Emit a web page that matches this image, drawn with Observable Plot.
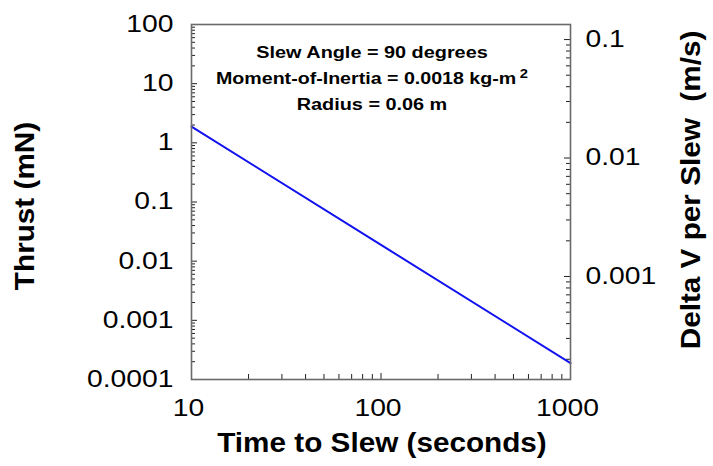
<!DOCTYPE html>
<html><head><meta charset="utf-8">
<script src="https://cdn.jsdelivr.net/npm/d3@7"></script>
<script src="https://cdn.jsdelivr.net/npm/@observablehq/plot@0.6"></script>
<style>
body{margin:0;background:#fff;}
#chart svg{font-family:"Liberation Sans",Arial,Helvetica,sans-serif;}
</style></head><body><div id="chart"></div>
<script>
// ---- data ----
const slewTime = [10, 100, 1000];              // seconds
const thrust = [1.885, 0.01885, 0.0001885];     // mN
const xTickLabels = [10, 100, 1000];
const yTickLabels = [0.0001, 0.001, 0.01, 0.1, 1, 10, 100];
const yDomain = [0.0001, 100];
const dvDomain = [0.000135, 0.134];             // right axis (m/s)
const dvTickLabels = [0.001, 0.01, 0.1];
const notes = ["Slew Angle = 90 degrees", "Moment-of-Inertia = 0.0018 kg-m", "Radius = 0.06 m"];
const noteSup = "2";
const xTitle = "Time to Slew (seconds)";
const yTitle = "Thrust (mN)";
const y2Title = "Delta V per Slew \u00a0(m/s)";

// ---- derived ----
const data = slewTime.map((t, i) => ({t, thrust: thrust[i]}));
const L = Math.log10;
const dvToY = v => 10 ** (L(yDomain[0]) + (L(v) - L(dvDomain[0])) / (L(dvDomain[1]) - L(dvDomain[0])) * (L(yDomain[1]) - L(yDomain[0])));
function minorTicks(lo, hi) {
  const out = [];
  for (let e = Math.floor(L(lo)); e <= Math.ceil(L(hi)); e++)
    for (let k = 2; k <= 9; k++) { const v = +(k * 10 ** e).toPrecision(3); if (v > lo && v < hi) out.push(v); }
  return out;
}
const yMinor = minorTicks(yDomain[0], yDomain[1]);
const xMinor = minorTicks(10, 1000);
const dvMinor = minorTicks(dvDomain[0], dvDomain[1]).map(dvToY);
const dvMajor = dvTickLabels.map(dvToY);

const W = 713, H = 466, mL = 191, mR = 143, mT = 24, mB = 87;
const iw = W - mL - mR, ih = H - mT - mB;
const tickCol = "#222";

const chart = Plot.plot({
  width: W, height: H,
  marginLeft: mL, marginRight: mR, marginTop: mT, marginBottom: mB,
  x: {type: "log", domain: [10, 1000], axis: null},
  y: {type: "log", domain: yDomain, axis: null},
  style: {background: "white", color: "black"},
  marks: [
    // inner ticks
    Plot.tickY(yTickLabels, {y: d => d, insetRight: iw - 6, stroke: tickCol}),
    Plot.tickY(yMinor, {y: d => d, insetRight: iw - 4, stroke: tickCol}),
    Plot.tickY(dvMajor, {y: d => d, insetLeft: iw - 6, stroke: tickCol}),
    Plot.tickY(dvMinor, {y: d => d, insetLeft: iw - 4, stroke: tickCol}),
    Plot.tickX(xTickLabels, {x: d => d, insetTop: ih - 6, stroke: tickCol}),
    Plot.tickX(xMinor, {x: d => d, insetTop: ih - 5, stroke: tickCol}),
    Plot.line(data, {x: "t", y: "thrust", stroke: "#1212f0", strokeWidth: 2}),
    Plot.frame({stroke: "#6a6a6a", strokeWidth: 1.6}),
    // tick labels
    Plot.text(yTickLabels, {y: d => d, frameAnchor: "left", text: d => String(d), textAnchor: "end", lineAnchor: "middle", dx: -18, fontSize: 23, ariaDescription: "ticklabel"}),
    Plot.text(dvTickLabels, {y: dvToY, frameAnchor: "right", text: d => String(d), textAnchor: "start", lineAnchor: "middle", dx: 15, fontSize: 23, ariaDescription: "ticklabel"}),
    Plot.text(xTickLabels, {x: d => d, frameAnchor: "bottom", text: d => String(d), textAnchor: "middle", lineAnchor: "middle", dx: -3, dy: 29, fontSize: 23, ariaDescription: "ticklabel"}),
    // titles
    Plot.text([xTitle], {frameAnchor: "bottom", textAnchor: "middle", lineAnchor: "middle", dx: 1, dy: 64, fontSize: 27, fontWeight: "bold", ariaDescription: "title"}),
    Plot.text([yTitle], {frameAnchor: "left", textAnchor: "middle", lineAnchor: "middle", dx: -166, dy: 4, rotate: -90, fontSize: 27, fontWeight: "bold", ariaDescription: "title"}),
    Plot.text([y2Title], {frameAnchor: "right", textAnchor: "middle", lineAnchor: "middle", dx: 121, dy: -12, rotate: -90, fontSize: 27, fontWeight: "bold", ariaDescription: "title"}),
    // annotation
    Plot.text([notes[0]], {frameAnchor: "top", textAnchor: "middle", lineAnchor: "bottom", dx: -9, dy: 33, fontSize: 16, fontWeight: "bold", ariaDescription: "note"}),
    Plot.text([notes[1]], {frameAnchor: "top", textAnchor: "middle", lineAnchor: "bottom", dx: -9, dy: 59.5, fontSize: 16, fontWeight: "bold", ariaDescription: "note2"}),
    Plot.text([notes[2]], {frameAnchor: "top", textAnchor: "middle", lineAnchor: "bottom", dx: -9, dy: 85, fontSize: 16, fontWeight: "bold", ariaDescription: "note"})
  ]
});
document.getElementById("chart").append(chart);

function textsFor(k, fallback) {
  const out = [];
  chart.querySelectorAll(`[aria-description="${k}"]`).forEach(el => {
    if (el.tagName.toLowerCase() === "text") out.push(el);
    else el.querySelectorAll("text").forEach(t => out.push(t));
  });
  if (!out.length) chart.querySelectorAll("text").forEach(t => { if (fallback.includes(t.textContent)) out.push(t); });
  return out;
}
const groups = {
  ticklabel: [1.23, [...yTickLabels, ...dvTickLabels, ...xTickLabels].map(String)],
  title: [1.1, [xTitle, yTitle, y2Title]],
  note: [1.24, [notes[0], notes[2]]],
  note2: [1.24, [notes[1]]]
};
// superscript on the moment-of-inertia unit
textsFor("note2", groups.note2[1]).forEach(t => {
  const s = document.createElementNS("http://www.w3.org/2000/svg", "tspan");
  s.setAttribute("baseline-shift", "6");
  s.setAttribute("dx", "3");
  s.setAttribute("font-size", "12");
  s.textContent = noteSup;
  t.appendChild(s);
});
// horizontal glyph widening to match the reference's wide lettering
for (const [k, [f, fb]] of Object.entries(groups)) {
  textsFor(k, fb).forEach(t => {
    const w = t.getComputedTextLength();
    if (w > 0) {
      t.setAttribute("textLength", (w * f).toFixed(1));
      t.setAttribute("lengthAdjust", "spacingAndGlyphs");
    }
  });
}
</script></body></html>
